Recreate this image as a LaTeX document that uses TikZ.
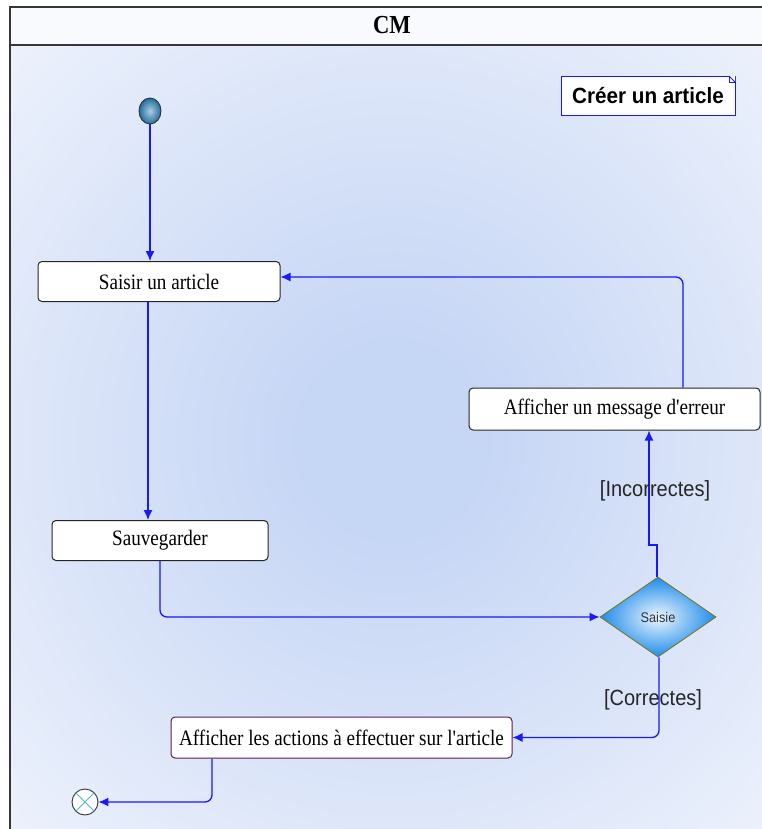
\documentclass[tikz,border=0pt]{standalone}
\usepackage{fontspec}
\setmainfont{Liberation Serif}
\newfontfamily\serifN[FakeStretch=0.87, Ligatures=TeXOff]{Liberation Serif}
\newfontfamily\arialN[FakeStretch=0.91, Ligatures=TeXOff]{Liberation Sans}
\newfontfamily\arialB[FakeStretch=0.94, Ligatures=TeXOff]{Liberation Sans}
\usetikzlibrary{shapes.geometric,shapes.misc,arrows.meta}
\definecolor{bgin}{RGB}{198,214,245}
\definecolor{bgout}{RGB}{249,250,254}
\definecolor{flow}{RGB}{24,24,250}
\definecolor{frameC}{RGB}{55,55,55}
\definecolor{diaB}{RGB}{30,140,235}
\definecolor{diaBorder}{RGB}{120,120,40}
\definecolor{initC}{RGB}{30,110,160}
\definecolor{xC}{RGB}{80,180,225}
\definecolor{purpC}{RGB}{90,30,80}
\pgfdeclareradialshading{bgshade}{\pgfpoint{0bp}{0bp}}{color(0bp)=(bgin); color(6bp)=(bgin); color(45bp)=(bgout); color(75bp)=(bgout)}
\tikzset{
  action/.style={draw=black!85, fill=white, rounded corners=4pt, line width=1pt, inner sep=0pt, font=\serifN\fontsize{22}{24}\selectfont},
  flowline/.style={draw=flow, line width=1.3pt, rounded corners=7pt, -{Latex[length=10pt,width=9pt]}},
  guard/.style={font=\arialN\fontsize{22}{24}\selectfont, text=black!85, inner sep=0pt},
}
\begin{document}
\begin{tikzpicture}[x=1pt,y=-1pt]
\useasboundingbox (0,0) rectangle (761,829);
\fill[white] (0,0) rectangle (761,829);
% frame background
\fill[bgout] (10,7) rectangle (775,45);
\shade[shading=bgshade] (10,45) rectangle (775,835);
% frame
\draw[frameC, line width=2pt] (10,840) -- (10,7) -- (775,7);
\draw[frameC, line width=2pt] (10,45) -- (775,45);
\node[font=\serifN\bfseries\fontsize{26}{28}\selectfont] (title) at (392,25) {CM};
% note
\node[draw=flow, fill=white, line width=0.9pt, minimum width=174pt, minimum height=39pt, inner sep=0pt, font=\arialB\bfseries\fontsize{22}{24}\selectfont] (note) at (648,95.5) {Créer un article};
\fill[white] (729,76) -- (735,82) -- (735,76) -- cycle;
\draw[flow, line width=0.8pt] (729,76) -- (729,82) -- (735,82);
\draw[flow, line width=0.8pt] (729,76) -- (735,82);
% nodes
\node[ellipse, draw=black!80, line width=0.9pt, minimum width=22pt, minimum height=26pt, inner sep=0pt, shading=radial, inner color=initC!35!white, outer color=initC] (init) at (150,111) {};
\node[action, minimum width=242pt, minimum height=40pt] (saisir) at (159,281.5) {Saisir un article};
\node[action, minimum width=216pt, minimum height=40pt] (sauve) at (160,540.5) {Sauvegarder};
\node[action, minimum width=291pt, minimum height=42pt] (err) at (614.5,409) {Afficher un message d'erreur};
\node[diamond, draw=diaBorder, line width=0.9pt, minimum width=116pt, minimum height=80pt, inner sep=0pt, aspect=1.45, shading=radial, inner color=white!92!diaB, outer color=diaB, font=\arialN\fontsize{14}{15}\selectfont, text=black!80] (dec) at (658,617) {Saisie};
\node[action, draw=purpC, minimum width=341pt, minimum height=41pt] (actions) at (341.5,737.5) {Afficher les actions à effectuer sur l'article};
\node[circle, draw=black!80, fill=white, line width=0.9pt, minimum size=26pt, inner sep=0pt] (final) at (85,802) {};
\draw[xC, line width=0.9pt] (final.north west) -- (final.south east) (final.north east) -- (final.south west);
% connectors
\draw[flowline] (init.south) -- (saisir.north -| init.south);
\draw[flowline] (saisir.south -| 148,0) -- (sauve.north -| 148,0);
\draw[flowline] (sauve.south) |- (dec.west);
\coordinate (j1) at (657,545);
\coordinate (j2) at (649,545);
\draw[flowline, rounded corners=0pt] (dec.north -| j1) -- (j1) -- (j2) -- (err.south -| j2);
\coordinate (e1) at (683,277);
\draw[flowline] (err.north -| e1) -- (e1) -- (saisir.east |- e1);
\coordinate (d1) at (659,737.5);
\draw[flowline] (dec.south -| d1) -- (d1) -- (actions.east);
\coordinate (a1) at (212,802);
\draw[flowline] (actions.south -| a1) -- (a1) -- (final.east);
% guards
\node[guard] (g1) at (655,491) {[Incorrectes]};
\node[guard] (g2) at (653,700) {[Correctes]};
\end{tikzpicture}
\end{document}
